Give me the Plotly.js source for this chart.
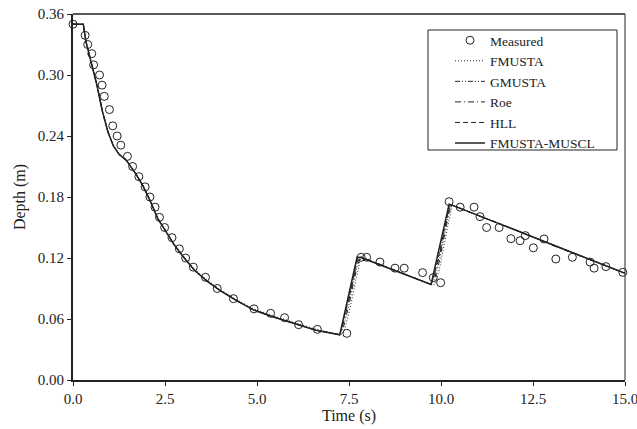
<!DOCTYPE html>
<html>
<head>
<meta charset="utf-8">
<script src="https://cdn.plot.ly/plotly-3.0.1.min.js"></script>
<style>html,body{margin:0;padding:0;background:#fff;}#chart{width:637px;height:429px;}</style>
</head>
<body>
<div id="chart"></div>
<script>
// Measured data
var measT = [0, 0.33, 0.40, 0.51, 0.56, 0.72, 0.79, 0.85, 0.99, 1.08, 1.20, 1.30, 1.48, 1.62, 1.79, 1.96, 2.09, 2.23, 2.35, 2.49, 2.69, 2.89, 3.06, 3.27, 3.60, 3.92, 4.36, 4.92, 5.37, 5.75, 6.13, 6.64, 7.44, 7.83, 7.98, 8.34, 8.75, 9.00, 9.50, 9.79, 9.99, 10.22, 10.52, 10.90, 11.06, 11.24, 11.58, 11.90, 12.15, 12.29, 12.51, 12.80, 13.12, 13.57, 14.05, 14.16, 14.48, 14.94];
var measH = [0.350, 0.339, 0.330, 0.321, 0.310, 0.300, 0.290, 0.279, 0.266, 0.250, 0.240, 0.231, 0.220, 0.210, 0.200, 0.190, 0.180, 0.170, 0.160, 0.150, 0.140, 0.129, 0.120, 0.111, 0.101, 0.090, 0.080, 0.070, 0.0656, 0.0613, 0.0544, 0.0498, 0.0459, 0.1207, 0.1207, 0.116, 0.110, 0.110, 0.1056, 0.1007, 0.0957, 0.1754, 0.170, 0.170, 0.1607, 0.150, 0.150, 0.139, 0.137, 0.142, 0.130, 0.1387, 0.119, 0.1207, 0.116, 0.110, 0.1115, 0.1059];

// Simulated series (common time grid)
var tSim = [0, 0.28, 0.35, 0.5, 0.65, 0.8, 0.95, 1.1, 1.25, 1.45, 1.7, 1.9, 2.1, 2.3, 2.5, 2.75, 3.0, 3.3, 3.65, 4.0, 4.4, 4.9, 5.45, 6.0, 6.6, 7.25, 7.35, 7.5, 7.72, 7.82, 9.73, 9.83, 9.95, 10.22, 10.3, 11, 12, 13, 14, 15];
var hFMUSTA = [0.350,0.350,0.334,0.313,0.291,0.265,0.245,0.231,0.223,0.217,0.204,0.192,0.177,0.160,0.149,0.134,0.122,0.109,0.098,0.089,0.080,0.070,0.063,0.057,0.050,0.0445,0.046,0.066,0.104,0.121,0.094,0.094,0.108,0.158,0.172,0.162,0.148,0.133,0.119,0.105];
var hGMUSTA = [0.350,0.350,0.333,0.312,0.290,0.264,0.244,0.230,0.222,0.216,0.203,0.191,0.176,0.159,0.148,0.133,0.121,0.108,0.097,0.088,0.079,0.069,0.062,0.056,0.049,0.0445,0.052,0.074,0.112,0.121,0.094,0.100,0.116,0.165,0.172,0.162,0.148,0.133,0.119,0.105];
var hRoe = [0.350,0.350,0.333,0.312,0.290,0.264,0.244,0.230,0.222,0.216,0.203,0.191,0.176,0.159,0.148,0.133,0.121,0.108,0.097,0.088,0.079,0.069,0.062,0.056,0.049,0.0445,0.056,0.079,0.116,0.121,0.094,0.104,0.121,0.168,0.172,0.162,0.148,0.133,0.119,0.105];
var hHLL = [0.350,0.350,0.333,0.312,0.290,0.264,0.244,0.230,0.222,0.216,0.203,0.191,0.176,0.159,0.148,0.133,0.121,0.108,0.097,0.088,0.079,0.069,0.062,0.056,0.049,0.0445,0.058,0.081,0.118,0.121,0.094,0.106,0.124,0.170,0.172,0.162,0.148,0.133,0.119,0.105];
var hMUSCL = [0.350,0.350,0.333,0.312,0.290,0.264,0.244,0.230,0.222,0.216,0.203,0.191,0.176,0.159,0.148,0.133,0.121,0.108,0.097,0.088,0.079,0.069,0.062,0.056,0.049,0.0445,0.061,0.085,0.121,0.1205,0.094,0.110,0.129,0.173,0.172,0.162,0.148,0.133,0.119,0.105];

var xTicks = [0, 2.5, 5, 7.5, 10, 12.5, 15];
var yTicks = [0, 0.06, 0.12, 0.18, 0.24, 0.30, 0.36];

var ink = '#222';
var font = 'Liberation Serif, Times New Roman, serif';

var traces = [
  {x: measT, y: measH, name: 'Measured', mode: 'markers', type: 'scatter', cliponaxis: false,
   marker: {symbol: 'circle-open', size: 8, color: ink, line: {width: 1, color: ink}}},
  {x: tSim, y: hFMUSTA, name: 'FMUSTA', mode: 'lines', type: 'scatter',
   line: {color: ink, width: 1, dash: '1px,2px'}},
  {x: tSim, y: hGMUSTA, name: 'GMUSTA', mode: 'lines', type: 'scatter',
   line: {color: ink, width: 1, dash: '5px,2px,1px,2px,1px,2px'}},
  {x: tSim, y: hRoe, name: 'Roe', mode: 'lines', type: 'scatter',
   line: {color: ink, width: 1, dash: '6px,3px,1px,3px'}},
  {x: tSim, y: hHLL, name: 'HLL', mode: 'lines', type: 'scatter',
   line: {color: ink, width: 1, dash: '5px,3px'}},
  {x: tSim, y: hMUSCL, name: 'FMUSTA-MUSCL', mode: 'lines', type: 'scatter',
   line: {color: ink, width: 1.5}}
];

var layout = {
  width: 637, height: 429,
  margin: {l: 73, r: 12, t: 14, b: 49},
  paper_bgcolor: '#fff', plot_bgcolor: '#fff',
  font: {family: font, color: ink, size: 14},
  showlegend: true,
  legend: {x: 0.683, xanchor: 'left', y: 0.970, yanchor: 'top',
           borderwidth: 0, bgcolor: 'rgba(0,0,0,0)',
           font: {family: font, size: 13.5, color: ink}},
  xaxis: {range: [0, 15], tickvals: xTicks, tickformat: '.1f', showgrid: false, zeroline: false,
          showline: true, linecolor: ink, linewidth: 2, ticks: 'outside', ticklen: 4, tickwidth: 1, tickcolor: ink,
          ticklabeloverflow: 'allow',
          tickfont: {size: 15}, title: {text: 'Time (s)', font: {size: 16}, standoff: 4}},
  yaxis: {range: [0, 0.36], tickvals: yTicks, tickformat: '.2f', showgrid: false, zeroline: false,
          showline: true, linecolor: ink, linewidth: 2, ticks: 'outside', ticklen: 4, tickwidth: 1, tickcolor: ink,
          ticklabeloverflow: 'allow',
          tickfont: {size: 15}, title: {text: 'Depth (m)', font: {size: 16}, standoff: 8}},
  shapes: [
    {type: 'line', xref: 'paper', yref: 'paper', x0: 0, x1: 1, y0: 1, y1: 1, line: {color: ink, width: 1.5}},
    {type: 'line', xref: 'paper', yref: 'paper', x0: 1, x1: 1, y0: 0, y1: 1, line: {color: ink, width: 1}},
    {type: 'rect', xref: 'paper', yref: 'paper', x0: (428-73)/552, x1: (617-73)/552,
     y0: 1-(150-14)/366, y1: 1-(30-14)/366, line: {color: ink, width: 1}, fillcolor: 'rgba(0,0,0,0)'}
  ]
};

Plotly.newPlot('chart', traces, layout, {staticPlot: true, displayModeBar: false});
</script>
</body>
</html>
